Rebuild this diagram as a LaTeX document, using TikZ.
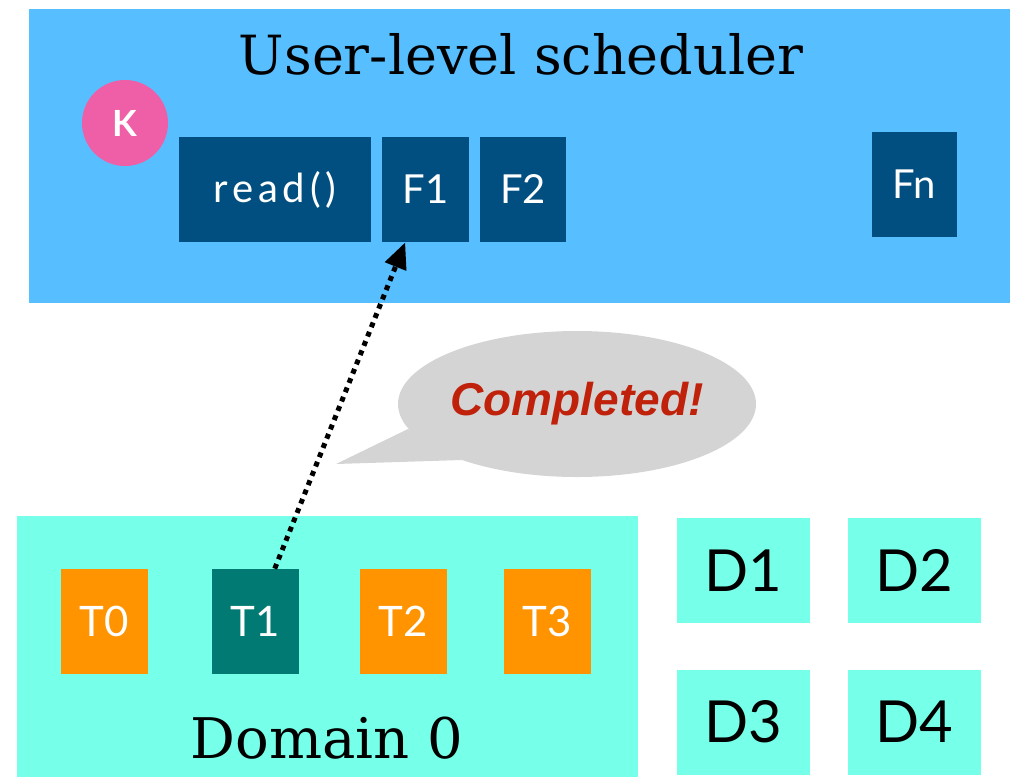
\documentclass[tikz,border=0pt]{standalone}
\usepackage{fontspec}
\usetikzlibrary{arrows.meta,shapes,positioning,calc}
\newfontfamily\titlefont{DejaVu Serif}
\newfontfamily\boxfont{Lato}
\newfontfamily\calloutfont{Liberation Sans}

\definecolor{schedblue}{RGB}{87,191,255}
\definecolor{fiberblue}{RGB}{0,79,128}
\definecolor{kpink}{RGB}{239,95,167}
\definecolor{domaqua}{RGB}{118,255,233}
\definecolor{taskorange}{RGB}{255,147,0}
\definecolor{taskteal}{RGB}{0,122,115}
\definecolor{bubblegray}{RGB}{212,212,212}
\definecolor{donered}{RGB}{192,33,10}

\begin{document}
\begin{tikzpicture}[x=0.5pt, y=-0.5pt, >=Stealth,
  panel/.style={rectangle, inner sep=0pt},
  fiber/.style={rectangle, fill=fiberblue, text=white, inner sep=0pt,
    minimum height=52.5pt, font=\boxfont\fontsize{20}{20}\selectfont},
  task/.style={rectangle, fill=taskorange, text=white, inner sep=0pt,
    minimum width=43.5pt, minimum height=52.5pt,
    font=\boxfont\fontsize{21}{21}\selectfont},
  dombox/.style={rectangle, fill=domaqua, inner sep=0pt,
    minimum width=66.5pt, minimum height=52.5pt,
    font=\boxfont\fontsize{29}{29}\selectfont}]
  \useasboundingbox (0,0) rectangle (1031,777);

  %% User-level scheduler
  \node[panel, fill=schedblue, minimum width=490.5pt, minimum height=147pt]
    (sched) at (519.5,156) {};
  \node[anchor=base, font=\titlefont\fontsize{27}{27}\selectfont]
    (schedtitle) at (521,74) {User-level scheduler};
  \node[circle, fill=kpink, text=white, minimum size=43pt, inner sep=0pt,
    font=\boxfont\bfseries\fontsize{18}{18}\selectfont] (kcirc) at (125,123) {K};
  \node[fiber, minimum width=96pt] (read) at (275,189.5)
    {\addfontfeature{LetterSpace=12}read()};
  \node[fiber, minimum width=43.5pt] (f1) at (425.5,189.5) {F1};
  \node[fiber, minimum width=43pt] (f2) at (523,189.5) {F2};
  \node[fiber, minimum width=42.5pt] (fn) at (914.5,184.5) {Fn};

  %% Domain 0 and its tasks
  \node[panel, fill=domaqua, minimum width=310.5pt, minimum height=130.5pt]
    (dom0) at (327.5,646.5) {};
  \node[task] (t0) at (104,621.5) {T0};
  \node[task, fill=taskteal] (t1) at (255.5,621.5) {T1};
  \node[task] (t2) at (403.5,621.5) {T2};
  \node[task] (t3) at (547.5,621.5) {T3};
  \node[anchor=base, font=\titlefont\fontsize{28}{28}\selectfont]
    (domlabel) at (327,758) {Domain 0};

  %% Other domains
  \node[dombox] (d1) at (743.5,570.5) {D1};
  \node[dombox] (d2) at (914.5,570.5) {D2};
  \node[dombox] (d3) at (743.5,722) {D3};
  \node[dombox] (d4) at (914.5,722) {D4};

  %% Speech bubble
  \coordinate (tailtip) at (336,464);
  \fill[bubblegray] (408,429) -- (tailtip) -- (462,460) -- cycle;
  \node[ellipse, fill=bubblegray, minimum width=179pt, minimum height=73pt,
    inner sep=0pt, text=donered,
    font=\calloutfont\bfseries\itshape\fontsize{23}{23}\selectfont]
    (bubble) at (577,404) {Completed!};

  %% Completion notification
  \draw[line width=2.5pt, dash pattern=on 2.5pt off 2.5pt,
    -{Triangle[length=13pt,width=11pt]}] (t1.70) -- (f1.-111);
\end{tikzpicture}
\end{document}
